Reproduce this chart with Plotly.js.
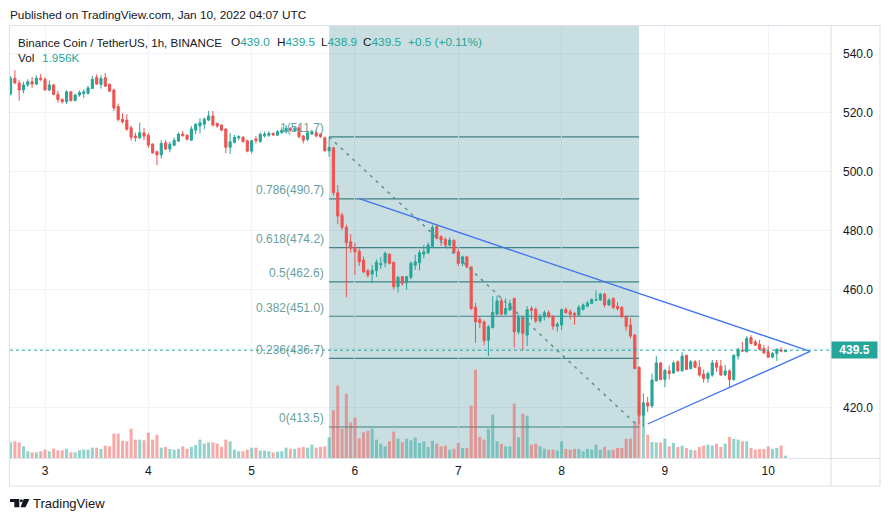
<!DOCTYPE html>
<html>
<head>
<meta charset="utf-8">
<script src="https://cdn.plot.ly/plotly-3.0.1.min.js"></script>
<style>html,body{margin:0;padding:0;background:#fff;}#chart{width:891px;height:521px;}</style>
</head>
<body>
<div id="chart"></div>
<script>
// ---------- DATA (BNB/USDT, 1h candles, Jan 2 16:00 UTC -> Jan 10 04:00 UTC) ----------
const startTime = '2022-01-02T16:00:00Z';
const opens = [526.2,531.6,530.0,527.6,529.3,530.4,529.6,531.6,531.2,527.6,
529.3,526.1,524.4,523.6,527.0,524.0,525.9,526.4,526.5,528.1,
531.9,529.5,531.7,529.5,527.6,522.0,517.7,517.4,514.8,512.0,
511.4,513.1,512.3,509.3,506.7,505.6,509.7,507.6,508.9,510.3,
512.7,512.3,510.6,514.0,515.4,516.0,517.4,518.8,516.3,515.7,
514.4,508.2,509.9,511.4,511.6,510.4,506.9,511.0,510.1,512.1,
512.3,512.9,512.3,513.1,513.5,514.6,514.0,514.8,512.0,510.9,
512.7,513.1,512.7,511.4,507.0,508.0,492.8,485.2,481.1,476.2,
474.3,473.0,470.0,466.4,465.3,466.4,468.4,469.1,472.0,469.3,
461.0,464.4,462.3,464.2,468.3,469.1,472.0,472.5,474.7,481.3,
477.9,477.0,475.1,476.6,472.8,468.9,471.1,467.7,454.0,449.9,
449.1,442.9,447.2,451.7,456.2,451.7,453.1,457.0,445.7,450.6,
444.6,453.6,453.3,449.4,450.8,452.2,451.0,447.6,448.0,453.3,
452.5,452.0,451.4,453.3,454.4,455.3,456.4,456.5,458.5,454.8,
457.0,454.4,454.0,450.8,448.0,444.6,433.7,417.5,421.7,420.6,
429.1,435.2,429.6,432.5,431.8,435.6,432.5,437.8,433.3,435.6,
433.7,431.4,429.9,431.1,435.2,434.1,431.1,432.5,429.6,437.5,
439.4,439.0,443.8,442.3,441.5,440.1,439.0,437.1,438.4,439.6,
439.0];
const highs = [532.3,534.3,531.0,530.3,531.2,532.0,532.5,533.0,531.9,530.8,
529.6,527.2,524.8,527.5,527.2,526.3,527.4,527.8,529.0,532.4,
532.9,532.6,533.4,529.8,528.0,523.0,519.7,519.4,515.5,513.1,
516.5,514.8,513.1,509.5,507.0,510.6,510.6,510.1,511.5,513.2,
513.8,512.6,515.4,516.3,518.0,518.3,520.5,520.5,516.6,516.0,
514.6,513.1,512.4,512.3,512.0,510.7,510.7,512.0,513.2,513.5,
513.6,513.2,514.0,515.0,515.8,515.0,515.2,515.7,512.3,513.5,
514.0,513.9,513.0,511.8,511.7,508.3,495.4,486.0,482.0,478.8,
475.9,473.9,471.2,467.1,468.3,470.2,471.1,472.9,472.3,469.3,
464.6,464.6,464.6,469.5,471.8,473.5,475.2,476.0,482.0,482.0,
478.5,477.7,477.7,477.2,473.8,471.5,471.5,467.9,455.5,450.8,
449.5,448.0,457.8,458.0,457.3,457.0,456.6,457.3,451.5,450.8,
454.4,454.4,454.0,451.8,453.0,453.0,451.3,449.0,453.6,454.0,
453.3,452.3,454.8,455.3,456.1,457.0,459.7,458.9,458.9,457.1,
457.4,455.8,454.4,451.3,450.3,445.0,434.0,424.9,423.7,431.6,
437.5,435.5,433.2,434.3,435.9,436.0,438.8,437.8,436.2,436.2,
436.2,433.0,432.3,436.2,436.2,436.2,434.5,433.0,438.0,440.3,
442.3,444.3,444.6,443.0,443.0,441.2,441.0,438.9,440.1,440.5,
439.5];
const lows = [525.8,529.6,524.0,526.5,528.6,528.3,529.2,530.5,527.4,527.2,
525.8,523.3,523.0,522.9,523.7,523.8,525.3,524.8,526.0,528.0,
529.3,528.1,528.6,526.9,520.5,517.0,516.3,513.8,510.4,510.1,
511.0,510.6,508.0,506.0,502.2,504.4,507.3,506.5,508.5,510.0,
511.8,510.5,510.3,512.6,512.9,514.3,517.0,515.3,514.8,513.6,
506.2,505.9,509.5,510.6,509.8,506.5,506.1,509.5,509.8,511.5,
511.7,512.0,512.0,512.8,512.8,513.5,513.4,511.2,509.5,510.2,
512.4,511.6,511.4,506.7,505.0,491.8,482.2,480.2,457.4,472.5,
464.9,468.0,465.6,464.1,462.1,464.3,467.0,467.6,468.5,460.0,
459.0,461.3,460.0,463.5,466.7,466.5,470.6,472.0,474.0,477.0,
474.8,474.5,474.5,472.3,468.0,468.0,467.2,453.0,442.0,446.9,
441.2,437.5,446.8,451.3,451.4,451.5,452.9,440.4,444.8,439.4,
440.9,449.9,448.7,448.8,449.6,450.3,446.3,445.8,446.3,451.8,
449.9,448.1,451.1,452.9,454.0,455.1,456.2,456.2,454.0,454.5,
453.4,452.9,450.5,446.1,443.5,433.0,414.5,413.5,418.6,420.0,
429.0,429.2,427.0,429.6,431.5,432.2,432.2,432.8,433.0,433.4,
430.5,428.5,428.5,430.5,432.2,430.8,430.8,427.0,429.2,436.3,
439.0,438.7,441.4,440.9,439.4,438.2,437.1,436.8,435.9,438.8,
438.9];
const closes = [531.6,530.0,527.6,529.3,530.4,529.6,531.6,531.2,527.6,529.3,
526.1,524.4,523.6,527.0,524.0,525.9,526.7,527.0,528.3,531.2,
529.6,531.5,528.9,527.2,521.5,517.6,516.8,514.3,511.6,511.4,
513.1,512.0,508.9,506.3,505.6,509.5,507.6,509.2,510.6,512.7,
512.1,510.9,514.4,516.0,516.5,517.7,518.8,515.7,515.4,514.0,
508.2,510.1,511.6,511.8,510.1,506.9,510.4,510.4,512.6,512.7,
512.9,512.4,513.5,514.0,514.6,514.0,514.5,511.8,510.6,513.1,
513.5,512.0,511.8,507.0,508.2,492.8,484.9,481.1,475.9,474.0,
472.8,469.4,466.0,464.9,466.6,469.3,468.8,472.3,468.9,461.0,
464.2,462.1,464.4,468.9,469.4,472.5,472.8,475.1,481.1,477.4,
476.8,475.1,476.8,472.5,468.9,471.1,467.7,453.6,449.1,448.8,
442.7,447.4,452.3,456.2,451.7,453.6,455.3,445.7,450.6,445.2,
453.2,453.0,449.4,450.8,452.2,450.8,447.6,448.3,453.3,452.2,
451.7,451.4,454.0,454.8,455.5,456.7,456.6,458.5,454.8,456.5,
454.0,453.6,450.8,447.6,444.3,433.3,417.5,421.7,420.6,429.4,
435.2,429.6,432.6,431.6,435.2,432.5,437.5,433.0,435.6,433.7,
431.1,429.9,431.6,435.2,433.7,431.1,432.5,429.6,437.8,439.8,
439.2,443.5,441.8,441.2,439.8,438.6,437.1,438.4,439.8,439.2,
439.5];
// volume in thousands of BNB
const volumes = [13.3,14.2,13.3,9.9,5.7,4.8,4.8,5.7,7.1,5.7,
7.9,6.5,6.5,7.9,4.8,4.8,6.5,7.1,7.1,8.8,
8.8,7.7,10.5,9.9,20.7,20.7,14.7,14.2,24.9,15.6,
15.6,15.0,21.5,15.6,19.8,8.8,9.4,7.7,7.1,7.7,
9.9,7.9,9.4,11.1,15.6,12.2,13.3,13.3,12.2,9.4,
15.6,14.2,7.1,5.7,5.7,7.1,8.8,8.8,6.2,6.2,
5.7,4.8,5.4,5.7,8.8,7.9,7.7,8.8,9.4,8.8,
11.3,8.8,9.4,9.9,17.6,40.5,61.5,24.9,54.7,30.3,
34.3,16.7,21.8,23.2,24.9,15.6,12.2,9.9,14.2,22.4,
16.4,13.3,16.4,15.0,17.3,12.8,14.2,9.4,14.7,12.2,
9.9,10.5,7.1,7.9,12.8,8.5,8.5,44.5,75.1,17.9,
15.6,24.9,36.8,14.2,11.9,9.9,9.9,46.2,17.6,37.7,
36.0,11.3,12.2,9.9,7.9,7.1,7.1,6.2,14.2,7.7,
7.1,7.7,7.7,5.7,7.7,7.1,11.3,7.1,9.4,6.5,
7.1,8.5,8.5,16.4,16.4,31.2,46.8,36.8,19.8,13.6,
13.3,13.3,16.4,9.9,12.8,9.4,10.5,8.5,7.1,6.5,
9.4,10.5,11.3,10.5,12.2,9.4,12.2,17.9,16.2,15.6,
14.2,14.2,8.5,7.1,7.7,7.7,9.9,7.7,8.5,10.5,
1.956];

// Fibonacci retracement drawing
const fibLevels = [1, 0.786, 0.618, 0.5, 0.382, 0.236, 0];
const fibPrices = [511.7, 490.7, 474.2, 462.6, 451.0, 436.7, 413.5];
const fibStart = '2022-01-05 18:00';
const fibEnd = '2022-01-08 18:00';
// dashed trend line of the fib tool
const trendX = ['2022-01-05 18:00', '2022-01-08 18:00'];
const trendY = [511.7, 413.5];
// triangle (blue) lines
const triUpperX = ['2022-01-06 01:00', '2022-01-10 09:45'];
const triUpperY = [490.8, 439.1];
const triLowerX = ['2022-01-08 20:00', '2022-01-10 09:45'];
const triLowerY = [414.5, 439.1];
// axis ticks
const dayTickVals = ['2022-01-03','2022-01-04','2022-01-05','2022-01-06','2022-01-07','2022-01-08','2022-01-09','2022-01-10'];
const dayTickText = ['3','4','5','6','7','8','9','10'];
const priceTickVals = [420, 440, 460, 480, 500, 520, 540];
const priceTickText = ['420.0', '', '460.0', '480.0', '500.0', '520.0', '540.0'];

// ---------- BUILD ----------
const UP = '#26a69a', DOWN = '#ef5350';
const t0 = Date.parse(startTime);
function fmt(ms){const d=new Date(ms);const p=n=>String(n).padStart(2,'0');
  return d.getUTCFullYear()+'-'+p(d.getUTCMonth()+1)+'-'+p(d.getUTCDate())+' '+p(d.getUTCHours())+':00';}
const times = opens.map((_, i) => fmt(t0 + i*3600000));
const volColors = opens.map((o, i) => closes[i] >= o ? 'rgba(38,166,154,0.5)' : 'rgba(239,83,80,0.5)');

const FONT = 'Liberation Sans, Arial, sans-serif';
const TXT = '#131722';
const PL=10, PR=831, PT=25, PB=458;
const px = x => (x-PL)/(PR-PL);
const py = y => 1-(y-PT)/(PB-PT);
const VOLMAX = 368;

const traces = [
  {type:'bar', x:times, y:volumes, marker:{color:volColors, line:{width:0}}, width:2520000,
   xaxis:'x', yaxis:'y', hoverinfo:'skip'},
  {type:'scatter', mode:'lines', x:trendX, y:trendY, xaxis:'x', yaxis:'y2',
   line:{color:'#5a9494', width:1.5, dash:'3px,5px'}, hoverinfo:'skip'},
  {type:'candlestick', x:times, open:opens, high:highs, low:lows, close:closes,
   xaxis:'x', yaxis:'y2', whiskerwidth:0,
   increasing:{line:{color:UP, width:1}, fillcolor:UP},
   decreasing:{line:{color:DOWN, width:1}, fillcolor:DOWN}, hoverinfo:'skip'},
  {type:'scatter', mode:'lines', x:triUpperX, y:triUpperY, xaxis:'x', yaxis:'y2',
   line:{color:'#3f74f2', width:1.3}, hoverinfo:'skip'},
  {type:'scatter', mode:'lines', x:triLowerX, y:triLowerY, xaxis:'x', yaxis:'y2',
   line:{color:'#3f74f2', width:1.3}, hoverinfo:'skip'}
];

const shapes = [];
// fib background (semi-transparent, between grid and data)
shapes.push({type:'rect', xref:'x', yref:'y', x0:fibStart, x1:fibEnd, y0:0, y1:VOLMAX,
  fillcolor:'rgba(0,99,108,0.21)', line:{width:0}, layer:'between'});
// fib levels
fibPrices.forEach(p => shapes.push({type:'line', xref:'x', yref:'y2', x0:fibStart, x1:fibEnd, y0:p, y1:p,
  line:{color:'#4f8d8e', width:1.2}, layer:'below'}));
// last price dotted line
shapes.push({type:'line', xref:'paper', yref:'y2', x0:0, x1:1, y0:closes[closes.length-1], y1:closes[closes.length-1],
  line:{color:UP, width:1, dash:'dot'}});
// frame
const FR = '#e0e3eb';
const frameLine = (x0,y0,x1,y1) => shapes.push({type:'line', xref:'paper', yref:'paper',
  x0:px(x0), y0:py(y0), x1:px(x1), y1:py(y1), line:{color:FR, width:1.2}});
frameLine(9.5,25,9.5,486);
frameLine(9,25.5,880,25.5);
frameLine(880,25,880,486);
frameLine(9,486,880,486);
frameLine(831,25,831,486);
frameLine(9,458.5,880,458.5);
// TradingView logo
const pth = pts => 'M' + pts.map(p => px(p[0])+','+py(p[1])).join(' L') + ' Z';
shapes.push({type:'path', xref:'paper', yref:'paper', path:pth([[10,499],[19.3,499],[19.3,507.3],[14.3,507.3],[14.3,502],[10,502]]),
  fillcolor:'#131722', line:{width:0}});
shapes.push({type:'circle', xref:'paper', yref:'paper', x0:px(19.9), x1:px(22.9), y0:py(499.2), y1:py(502.2),
  fillcolor:'#131722', line:{width:0}});
shapes.push({type:'path', xref:'paper', yref:'paper', path:pth([[23.8,499],[29.5,499],[25.5,507.3],[20.5,507.3]]),
  fillcolor:'#131722', line:{width:0}});

const last = closes.length - 1;
const span = (s) => '<span style="color:'+UP+'">'+s+'</span>';
const chg = closes[last] - opens[last];
const chgPct = chg / opens[last] * 100;
const ann = [];
const addText = (x, y, text, size, color, extra) => ann.push(Object.assign({xref:'paper', yref:'paper',
  x:px(x), y:py(y), xanchor:'left', yanchor:'middle', showarrow:false, text:text, borderpad:0,
  font:{family:FONT, size:size, color:color}}, extra||{}));
addText(9, 15, 'Published on TradingView.com, Jan 10, 2022 04:07 UTC', 11.8, TXT);
addText(17, 42, 'Binance Coin / TetherUS, 1h, BINANCE', 11.6, TXT);
addText(230, 42, 'O' + span(opens[last].toFixed(1)), 11.8, TXT);
addText(276, 42, 'H' + span(highs[last].toFixed(1)), 11.8, TXT);
addText(320, 42, 'L' + span(lows[last].toFixed(1)), 11.8, TXT);
addText(362, 42, 'C' + span(closes[last].toFixed(1)), 11.8, TXT);
addText(407, 42, span((chg>=0?'+':'') + chg.toFixed(1) + ' (' + (chg>=0?'+':'') + chgPct.toFixed(2) + '%)'), 11.8, TXT);
addText(17, 58.5, 'Vol', 11.8, TXT);
addText(41, 58.5, span(volumes[last].toFixed(3) + 'K'), 11.8, TXT);
addText(32, 503.5, 'TradingView', 13, TXT);
// fib labels
fibLevels.forEach((lv, i) => ann.push({xref:'x', yref:'y2', x:fibStart, y:fibPrices[i], xanchor:'right', yanchor:'middle',
  xshift:-4, yshift:8.5, showarrow:false, borderpad:0, text: lv + '(' + fibPrices[i].toFixed(1) + ')',
  font:{family:FONT, size:12, color:'#6a9fa1'}}));
// last price label on axis
ann.push({xref:'paper', yref:'y2', x:1, y:closes[last], xanchor:'left', yanchor:'middle', showarrow:false,
  text:'<b>'+closes[last].toFixed(1)+'</b>', bgcolor:UP, width:40, height:11, borderpad:2.5, align:'center',
  font:{family:FONT, size:12, color:'#ffffff'}});

const layout = {
  width:891, height:521,
  margin:{l:PL, r:891-PR, t:PT, b:521-PB},
  paper_bgcolor:'#ffffff', plot_bgcolor:'rgba(0,0,0,0)',
  showlegend:false, hovermode:false,
  boxgap:0.3,
  xaxis:{type:'date', range:['2022-01-02 15:52','2022-01-10 14:35'], rangeslider:{visible:false},
    tickvals:dayTickVals, ticktext:dayTickText, ticks:'', showgrid:true, gridcolor:'#f0f3fa', gridwidth:1,
    zeroline:false, showline:false, ticklabelstandoff:4,
    tickfont:{family:FONT, size:12, color:TXT}, fixedrange:true},
  yaxis:{range:[0, VOLMAX], visible:false, showgrid:false, zeroline:false, fixedrange:true},
  yaxis2:{overlaying:'y', side:'right', range:[403.0, 549.6], tickvals:priceTickVals, ticktext:priceTickText,
    ticks:'', showgrid:true, gridcolor:'#f0f3fa', gridwidth:1, zeroline:false, showline:false,
    ticklabelstandoff:11, tickfont:{family:FONT, size:12, color:TXT}, fixedrange:true},
  shapes:shapes, annotations:ann
};

Plotly.newPlot('chart', traces, layout, {staticPlot:true, displayModeBar:false});
</script>
</body>
</html>
